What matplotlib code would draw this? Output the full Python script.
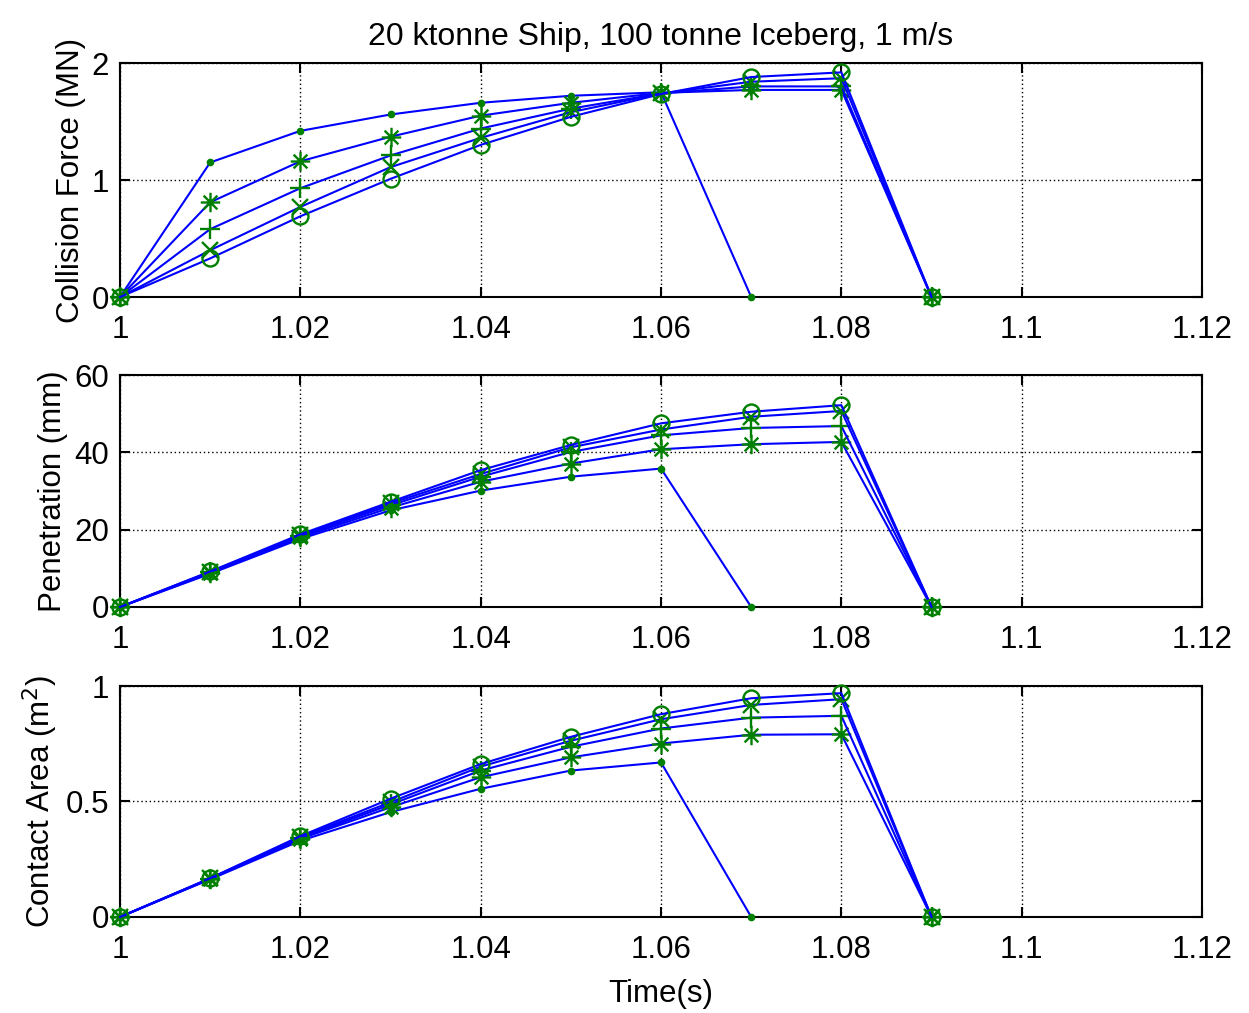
import numpy as np
import matplotlib
matplotlib.use('Agg')
import matplotlib.pyplot as plt
from matplotlib.path import Path

plt.rcParams['font.family'] = ['Liberation Sans', 'DejaVu Sans']

# time steps
t_short = [1.00, 1.01, 1.02, 1.03, 1.04, 1.05, 1.06, 1.07]
t_long = [1.00, 1.01, 1.02, 1.03, 1.04, 1.05, 1.06, 1.07, 1.08, 1.09]

# collision force (MN)
force_dot = [0, 1.15, 1.42, 1.56, 1.66, 1.72, 1.75, 0]
force_star = [0, 0.81, 1.16, 1.37, 1.55, 1.66, 1.745, 1.77, 1.77, 0]
force_plus = [0, 0.58, 0.93, 1.21, 1.44, 1.61, 1.74, 1.80, 1.80, 0]
force_x = [0, 0.40, 0.77, 1.11, 1.36, 1.58, 1.74, 1.84, 1.87, 0]
force_circ = [0, 0.33, 0.69, 1.01, 1.30, 1.54, 1.735, 1.88, 1.92, 0]

# penetration (mm)
pen_dot = [0, 8.6, 17.6, 25.0, 30.1, 33.7, 35.8, 0]
pen_star = [0, 8.8, 18.0, 25.7, 32.4, 37.1, 40.8, 42.1, 42.7, 0]
pen_plus = [0, 9.0, 18.3, 26.3, 33.7, 40.1, 44.4, 46.3, 46.8, 0]
pen_x = [0, 9.1, 18.5, 26.8, 34.4, 41.3, 45.9, 49.2, 50.7, 0]
pen_circ = [0, 9.2, 18.8, 27.2, 35.4, 41.9, 47.5, 50.5, 52.2, 0]

# contact area (m^2)
area_dot = [0, 0.163, 0.330, 0.454, 0.555, 0.634, 0.669, 0]
area_star = [0, 0.165, 0.338, 0.475, 0.605, 0.691, 0.751, 0.789, 0.791, 0]
area_plus = [0, 0.166, 0.342, 0.487, 0.634, 0.737, 0.816, 0.863, 0.871, 0]
area_x = [0, 0.167, 0.346, 0.497, 0.651, 0.763, 0.856, 0.918, 0.943, 0]
area_circ = [0, 0.168, 0.350, 0.512, 0.662, 0.780, 0.878, 0.947, 0.969, 0]

# matlab style asterisk: 8 spokes, not filled
s = np.sqrt(0.5)
star_path = Path(
    [(-1, 0), (1, 0), (0, -1), (0, 1), (-s, -s), (s, s), (-s, s), (s, -s)],
    [Path.MOVETO, Path.LINETO] * 4)

line_col = '#0000ff'
mark_col = '#008000'


def draw_panel(ax, dot, star, plus, xx, circ):
    ax.plot(t_short, dot, color=line_col, lw=1.5, marker='o', ms=4.5,
            mfc=mark_col, mec=mark_col, clip_on=False, zorder=3)
    ax.plot(t_long, star, color=line_col, lw=1.5, marker=star_path, ms=14,
            mfc='none', mec=mark_col, mew=1.7, clip_on=False, zorder=3)
    ax.plot(t_long, plus, color=line_col, lw=1.5, marker='+', ms=14,
            mec=mark_col, mew=1.7, clip_on=False, zorder=3)
    ax.plot(t_long, xx, color=line_col, lw=1.5, marker='x', ms=11,
            mec=mark_col, mew=1.7, clip_on=False, zorder=3)
    ax.plot(t_long, circ, color=line_col, lw=1.5, marker='o', ms=11.5,
            mfc='none', mec=mark_col, mew=1.7, clip_on=False, zorder=3)
    ax.set_xlim(1.0, 1.12)
    ax.set_xticks([1.0, 1.02, 1.04, 1.06, 1.08, 1.1, 1.12])
    ax.set_xticklabels(['1', '1.02', '1.04', '1.06', '1.08', '1.1', '1.12'])
    ax.grid(True, color='black', linestyle=(0, (1, 2)), linewidth=1.0)
    ax.tick_params(direction='in', top=True, right=True, length=7, width=1.5,
                   labelsize=22.5)
    ax.tick_params(axis='x', pad=13)
    ax.tick_params(axis='y', pad=8)
    for sp in ax.spines.values():
        sp.set_linewidth(1.5)


fig = plt.figure(figsize=(12.49, 10.13), dpi=100)
ax1 = fig.add_axes([0.0961, 0.7068, 0.8663, 0.2310])
ax2 = fig.add_axes([0.0961, 0.4008, 0.8663, 0.2290])
ax3 = fig.add_axes([0.0961, 0.0948, 0.8663, 0.2280])

draw_panel(ax1, force_dot, force_star, force_plus, force_x, force_circ)
ax1.set_ylim(0, 2)
ax1.set_yticks([0, 1, 2])
ax1.set_yticklabels(['0', '1', '2'])
ax1.set_ylabel('Collision Force (MN)', fontsize=22.5, labelpad=4)
ax1.set_title('20 ktonne Ship, 100 tonne Iceberg, 1 m/s', fontsize=23, pad=13)

draw_panel(ax2, pen_dot, pen_star, pen_plus, pen_x, pen_circ)
ax2.set_ylim(0, 60)
ax2.set_yticks([0, 20, 40, 60])
ax2.set_ylabel('Penetration (mm)', fontsize=22.5, labelpad=4)

draw_panel(ax3, area_dot, area_star, area_plus, area_x, area_circ)
ax3.set_ylim(0, 1)
ax3.set_yticks([0, 0.5, 1])
ax3.set_yticklabels(['0', '0.5', '1'])
ax3.set_ylabel('Contact Area (m$^2$)', fontsize=22.5, labelpad=4)
ax3.set_xlabel('Time(s)', fontsize=22.5, labelpad=10)

fig.savefig('out.png', dpi=100)
